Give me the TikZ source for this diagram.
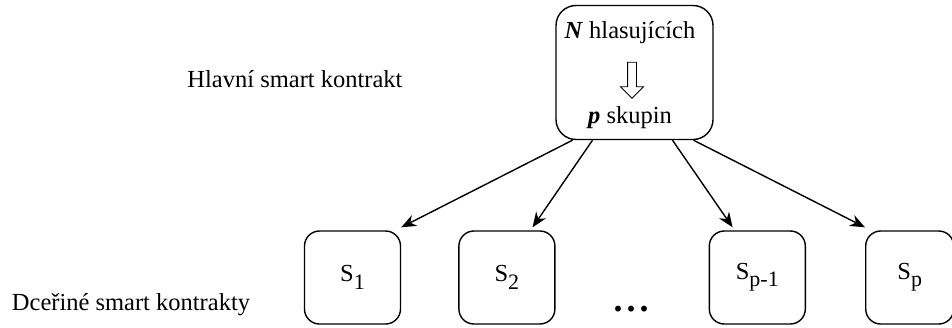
\documentclass[tikz,border=0pt]{standalone}
\usepackage{fontspec}
\setmainfont{Liberation Serif}
\usepackage{tikz}
\usetikzlibrary{arrows.meta,positioning,shapes.arrows}

\newcommand{\subidx}[1]{\raisebox{-0.3em}{\fontsize{22}{24}\selectfont #1}}

\begin{document}
\begin{tikzpicture}[
    x=1pt, y=1pt,
    node distance=57pt,
    every node/.style={font=\fontsize{24.5}{28}\selectfont},
    mainbox/.style={rectangle, draw, line width=1.4pt, rounded corners=20pt, minimum width=157pt, minimum height=134pt},
    childbox/.style={rectangle, draw, line width=1.4pt, rounded corners=15pt, minimum width=96pt, minimum height=93pt, inner sep=0pt},
    hollow/.style={single arrow, draw, line width=0.8pt, shape border rotate=270, minimum height=36pt, inner sep=4pt, single arrow head extend=7pt},
    arrow/.style={-{Stealth[length=15pt, width=12pt]}, line width=1.4pt}
]
    \useasboundingbox (0,0) rectangle (952,-327);

    % main contract with the split of voters
    \node[mainbox] (main) at (634.5,-72.5) {};
    \node[inner sep=0pt] (voters) at (630,-33) {\textbf{\textit{N}} hlasujících};
    \node[hollow] (split) at (632,-78) {};
    \node[inner sep=0pt] (groups) at (630,-118) {\textbf{\textit{p}} skupin};
    \node (mainlabel) at (295,-79) {Hlavní smart kontrakt};

    % child contracts
    \node[childbox] (s1) at (352.5,-277.5) {S\subidx{1}};
    \node[childbox, right=of s1] (s2) {S\subidx{2}};
    \node[childbox, right=153pt of s2] (spm) {S\subidx{p-1}};
    \node[childbox, right=59pt of spm, minimum width=88pt] (sp) {S\subidx{p}};
    \node[anchor=base, font=\fontsize{36}{40}\bfseries] (dots) at (631,-311) {.\kern4pt.\kern4pt.};
    \node (childlabel) at (131,-305) {Dceřiné smart kontrakty};

    \draw[arrow] ([xshift=-62pt]main.south) -- ([yshift=3pt]s1.north east);
    \draw[arrow] ([xshift=-42pt]main.south) -- ([xshift=-23pt,yshift=3pt]s2.north east);
    \draw[arrow] ([xshift=38pt]main.south) -- ([xshift=24pt,yshift=3pt]spm.north west);
    \draw[arrow] ([xshift=59pt]main.south) -- ([yshift=3pt]sp.north west);
\end{tikzpicture}
\end{document}
